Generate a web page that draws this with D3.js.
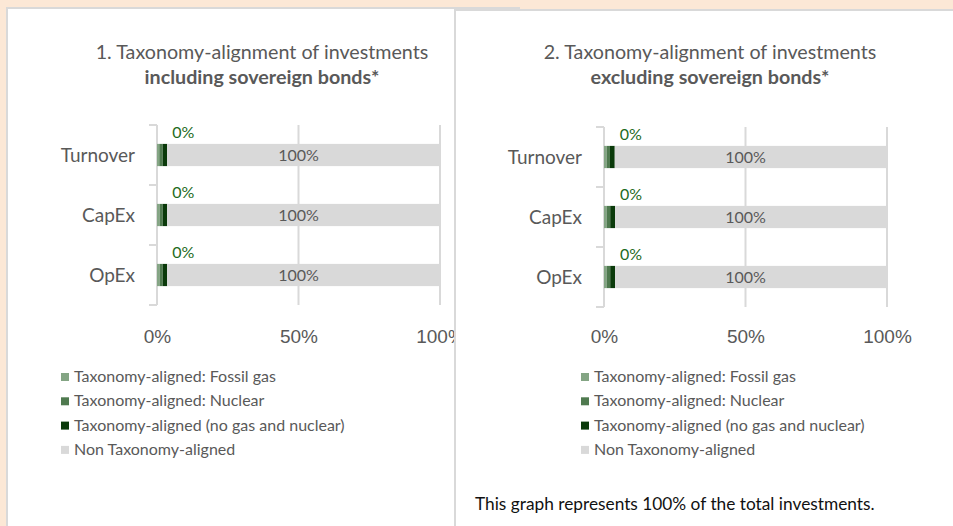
<!DOCTYPE html>
<html>
<head>
<meta charset="utf-8">
<script src="https://cdn.jsdelivr.net/npm/d3@7"></script>
<style>
  html, body { margin: 0; padding: 0; background: #fce8d6; }
  svg { display: block; font-family: Lato, "Open Sans", sans-serif; }
</style>
</head>
<body>
<div id="chart"></div>
<script>
// Chart data
const categories = ["Turnover", "CapEx", "OpEx"];
const seriesNames = [
  "Taxonomy-aligned: Fossil gas",
  "Taxonomy-aligned: Nuclear",
  "Taxonomy-aligned (no gas and nuclear)",
  "Non Taxonomy-aligned",
];
const seriesColors = ["#84a584", "#4f7a4f", "#0a3a0a", "#d9d9d9"];

// 1. including sovereign bonds
const gasIncl = [0.8, 0.9, 0.9];
const nuclearIncl = [1.2, 1.1, 1.1];
const alignedIncl = [1.6, 1.6, 1.6];
const nonIncl = [96.4, 96.4, 96.4];

// 2. excluding sovereign bonds
const gasExcl = [0.9, 0.9, 0.9];
const nuclearExcl = [1.2, 1.3, 1.3];
const alignedExcl = [1.7, 1.7, 1.7];
const nonExcl = [96.2, 96.1, 96.1];

const alignedLabels = ["0%", "0%", "0%"];
const nonLabels = ["100%", "100%", "100%"];
const xTicks = [0, 50, 100];

const W = 953, H = 526;
const GRID = "#d9d9d9";
const TEXT = "#595959";

const svg = d3.select("#chart").append("svg")
  .attr("width", W).attr("height", H);

svg.append("rect").attr("width", W).attr("height", H).attr("fill", "#fce8d6");

function buildRows(gas, nuc, ali, non) {
  return categories.map((c, i) => ({
    cat: c, gas: gas[i], nuc: nuc[i], ali: ali[i], non: non[i],
    lblA: alignedLabels[i], lblN: nonLabels[i],
  }));
}

function drawPanel(opt) {
  // panel background
  svg.append("rect")
    .attr("x", opt.panel[0]).attr("y", opt.panel[1])
    .attr("width", opt.panel[2]).attr("height", opt.panel[3])
    .attr("fill", "#fff").attr("stroke", GRID).attr("stroke-width", 2);

  const g = svg.append("g");

  const x = d3.scaleLinear().domain([0, 100]).range(opt.xr);
  const y = d3.scaleBand().domain(categories).range(opt.yr)
    .paddingInner(0.63).paddingOuter(0.315);

  // titles
  const t = g.append("text").attr("text-anchor", "middle")
    .attr("fill", TEXT).attr("font-size", 19.7);
  t.append("tspan").attr("x", opt.titleX).attr("y", 59).text(opt.title1);
  t.append("tspan").attr("x", opt.titleX).attr("y", 84)
    .attr("font-weight", "bold").text(opt.title2);

  // vertical gridlines
  g.selectAll(".grid").data(xTicks).join("line")
    .attr("x1", d => x(d)).attr("x2", d => x(d))
    .attr("y1", opt.yr[0]).attr("y2", opt.yr[1])
    .attr("stroke", GRID).attr("stroke-width", 2);

  // category tick marks
  const bounds = categories.map(c => y(c) - y.step() * y.paddingInner() / 2)
    .concat([opt.yr[1]]);
  g.selectAll(".ytick").data(bounds).join("line")
    .attr("x1", opt.xr[0] - 8).attr("x2", opt.xr[0])
    .attr("y1", d => d).attr("y2", d => d)
    .attr("stroke", GRID).attr("stroke-width", 2);

  // category labels
  g.selectAll(".cat").data(categories).join("text")
    .attr("x", opt.xr[0] - 22)
    .attr("y", d => y(d) + y.bandwidth() / 2 + 7)
    .attr("text-anchor", "end").attr("fill", TEXT).attr("font-size", 19)
    .text(d => d);

  // stacked bars
  const rows = buildRows(...opt.data);
  const stack = d3.stack().keys(["gas", "nuc", "ali", "non"])(rows);
  g.selectAll(".series").data(stack).join("g")
    .attr("fill", (d, i) => seriesColors[i])
    .selectAll("rect").data(d => d).join("rect")
    .attr("x", d => x(d[0]))
    .attr("width", d => x(d[1]) - x(d[0]))
    .attr("y", d => y(d.data.cat))
    .attr("height", y.bandwidth());

  // data labels
  g.selectAll(".lblA").data(rows).join("text")
    .attr("x", d => x(d.gas + d.nuc + d.ali) + 16)
    .attr("y", d => y(d.cat) - 6)
    .attr("text-anchor", "middle").attr("fill", "#1d6b1d").attr("font-size", 16)
    .text(d => d.lblA);
  g.selectAll(".lblN").data(rows).join("text")
    .attr("x", d => x((d.gas + d.nuc + d.ali + d.non) / 2))
    .attr("y", d => y(d.cat) + y.bandwidth() / 2 + 6)
    .attr("text-anchor", "middle").attr("fill", TEXT).attr("font-size", 16)
    .text(d => d.lblN);

  // x axis labels
  const ax = g.append("g")
    .attr("transform", `translate(0,${opt.axisY})`)
    .call(d3.axisBottom(x).tickValues(xTicks).tickSize(0).tickFormat(d => d + "%"));
  ax.select(".domain").remove();
  ax.selectAll("text").attr("dy", 0).attr("y", 0)
    .attr("fill", TEXT).attr("font-size", 19).attr("font-family", null);

  // legend
  const lg = g.append("g").attr("transform", `translate(${opt.legendX},377)`);
  const item = lg.selectAll("g").data(seriesNames).join("g")
    .attr("transform", (d, i) => `translate(0,${i * 24.3})`);
  item.append("rect").attr("x", 0).attr("y", -4).attr("width", 8).attr("height", 8)
    .attr("fill", (d, i) => seriesColors[i]);
  item.append("text").attr("x", 13).attr("y", 5)
    .attr("fill", TEXT).attr("font-size", 16).text(d => d);

  return g;
}

drawPanel({
  panel: [7, 8, 512, 540],
  xr: [157, 440], yr: [125, 305],
  titleX: 262,
  title1: "1. Taxonomy-alignment of investments",
  title2: "including sovereign bonds*",
  data: [gasIncl, nuclearIncl, alignedIncl, nonIncl],
  axisY: 343, legendX: 61,
});

drawPanel({
  panel: [455, 10, 520, 540],
  xr: [604, 887], yr: [127, 307],
  titleX: 710,
  title1: "2. Taxonomy-alignment of investments",
  title2: "excluding sovereign bonds*",
  data: [gasExcl, nuclearExcl, alignedExcl, nonExcl],
  axisY: 343, legendX: 581,
});

svg.append("text")
  .attr("x", 475).attr("y", 510)
  .attr("fill", "#111").attr("font-size", 17.3)
  .text("This graph represents 100% of the total investments.");
</script>
</body>
</html>
